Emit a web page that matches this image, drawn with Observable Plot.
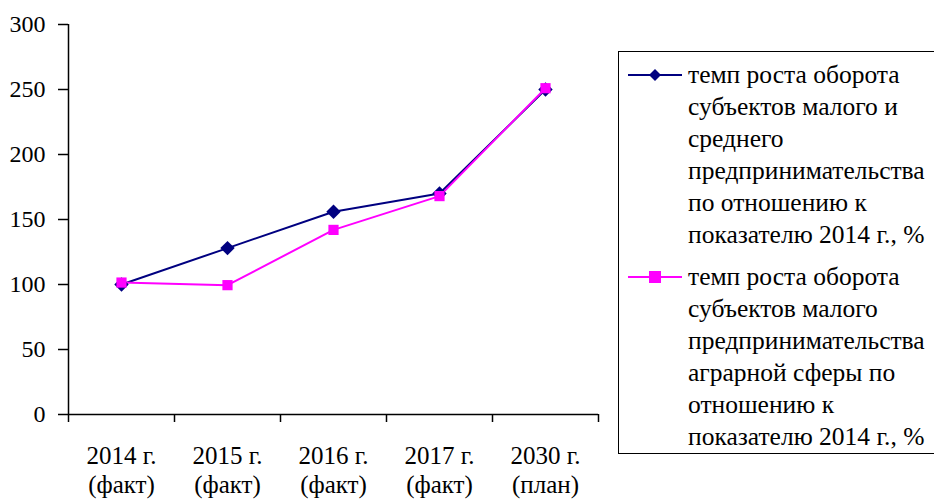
<!DOCTYPE html>
<html>
<head>
<meta charset="utf-8">
<script src="https://cdn.jsdelivr.net/npm/d3@7"></script>
<script src="https://cdn.jsdelivr.net/npm/@observablehq/plot@0.6"></script>
<style>
  html, body { margin: 0; padding: 0; background: #fff; }
  #wrap { position: relative; width: 934px; height: 499px; overflow: hidden; font-family: "Liberation Serif", "Times New Roman", "DejaVu Serif", serif; }
  #legend { position: absolute; left: 618px; top: 51px; width: 330px; height: 403px; border: 1.5px solid #000; box-sizing: border-box; background: #fff; }
  .entry { position: absolute; left: 0; }
  .entry svg { position: absolute; left: 9px; top: 0; }
  .entry .lbl { position: absolute; left: 69px; top: 0; font-size: 25.5px; line-height: 32px; white-space: pre; color: #000; }
</style>
</head>
<body>
<div id="wrap"></div>
<script>
// ---- data ----
const categories = ["2014 г.\n(факт)", "2015 г.\n(факт)", "2016 г.\n(факт)", "2017 г.\n(факт)", "2030 г.\n(план)"];
const seriesNames = [
  "темп роста оборота\nсубъектов малого и\nсреднего\nпредпринимательства\nпо отношению к\nпоказателю 2014 г., %",
  "темп роста оборота\nсубъектов малого\nпредпринимательства\nаграрной сферы по\nотношению к\nпоказателю 2014 г., %"
];
const seriesSME = [100, 128, 156, 170, 250];
const seriesAgro = [101.5, 99.5, 142, 168, 251];
const yTicks = [0, 50, 100, 150, 200, 250, 300];
const colors = ["#000080", "#FF00FF"];

// ---- build ----
const idx = categories.map((_, i) => i);
const boundaries = categories.map((_, i) => i - 0.5).concat([categories.length - 0.5]);
const rows = [];
categories.forEach((c, i) => {
  rows.push({i, v: seriesSME[i], s: 0});
  rows.push({i, v: seriesAgro[i], s: 1});
});
const font = "Liberation Serif, Times New Roman, DejaVu Serif, serif";

const chart = Plot.plot({
  width: 934,
  height: 499,
  marginLeft: 68,
  marginRight: 336,
  marginTop: 24,
  marginBottom: 85,
  style: {fontFamily: font, fontSize: "24px", color: "#000", background: "#fff", overflow: "visible"},
  x: {type: "linear", domain: [-0.5, categories.length - 0.5]},
  y: {domain: [0, 300]},
  marks: [
    Plot.axisY({ticks: yTicks, tickSize: 10, tickPadding: 13, fontSize: 24, label: null, tickFormat: d => String(d), stroke: "#000", strokeWidth: 1.5}),
    Plot.axisX({ticks: boundaries, tickSize: 8, tickFormat: () => "", label: null, stroke: "#000", strokeWidth: 1.5}),
    Plot.ruleX([-0.5], {stroke: "#000", strokeWidth: 1.5}),
    Plot.ruleY([0], {stroke: "#000", strokeWidth: 1.5}),
    Plot.text(idx, {x: d => d, y: 0, text: d => categories[d], dy: 55, lineAnchor: "middle", lineHeight: 1.15, fontSize: 25, fill: "#000", textAnchor: "middle"}),
    Plot.line(rows.filter(r => r.s === 0), {x: "i", y: "v", stroke: colors[0], strokeWidth: 2}),
    Plot.line(rows.filter(r => r.s === 1), {x: "i", y: "v", stroke: colors[1], strokeWidth: 2}),
    Plot.dot(rows.filter(r => r.s === 0), {x: "i", y: "v", symbol: "diamond2", fill: colors[0], r: 6.5}),
    Plot.dot(rows.filter(r => r.s === 1), {x: "i", y: "v", symbol: "square2", fill: colors[1], r: 6.5})
  ]
});

const wrap = document.getElementById("wrap");
wrap.appendChild(chart);

// ---- legend ----
const legend = document.createElement("div");
legend.id = "legend";
const tops = [7, 209];
seriesNames.forEach((name, k) => {
  const e = document.createElement("div");
  e.className = "entry";
  e.style.top = tops[k] + "px";
  const sym = k === 0
    ? `<path d="M27,10 L33,16 L27,22 L21,16 Z" fill="${colors[0]}"/>`
    : `<rect x="21" y="10" width="12" height="12" fill="${colors[1]}"/>`;
  e.innerHTML = `<svg width="56" height="32"><line x1="0" x2="54" y1="16" y2="16" stroke="${colors[k]}" stroke-width="2"/>${sym}</svg><div class="lbl"></div>`;
  e.querySelector(".lbl").textContent = name;
  legend.appendChild(e);
});
wrap.appendChild(legend);
</script>
</body>
</html>
